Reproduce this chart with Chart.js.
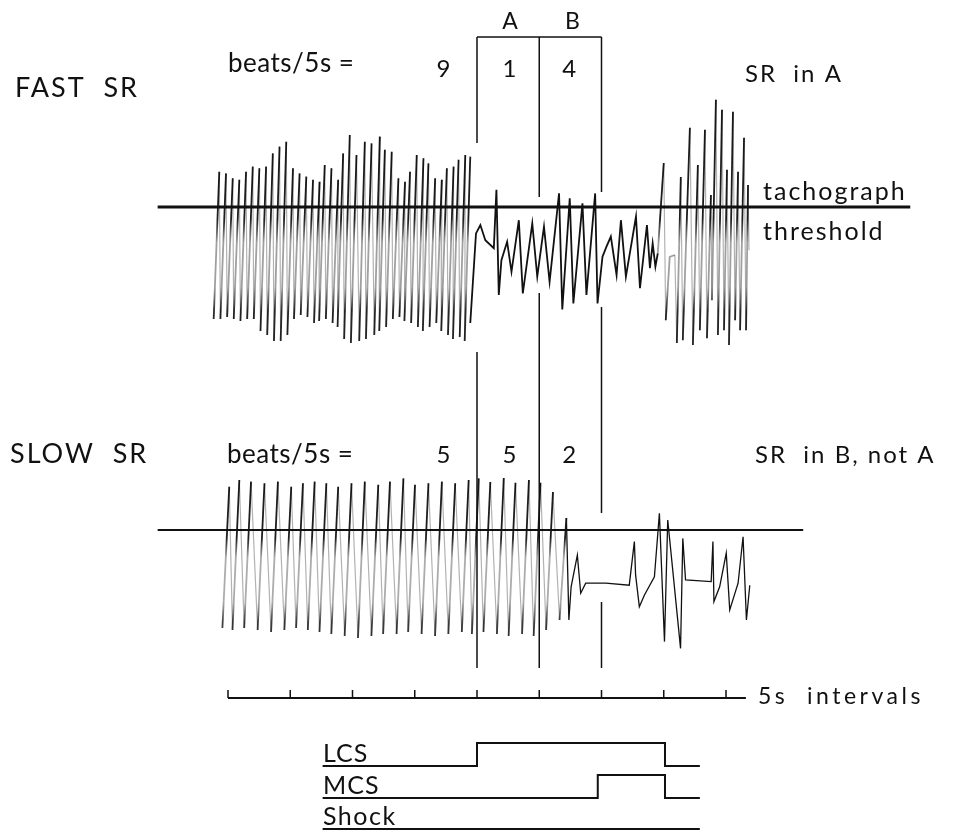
<!DOCTYPE html>
<html>
<head>
<meta charset="utf-8">
<script src="https://cdn.jsdelivr.net/npm/chart.js@4.4.1/dist/chart.umd.min.js"></script>
<style>
  html, body { margin: 0; padding: 0; background: #fff; }
  #wrap { width: 956px; height: 832px; position: relative; }
</style>
</head>
<body>
<div id="wrap"><canvas id="trace"></canvas></div>
<script>
// time in seconds (0 = first 5s tick), trace amplitude in arbitrary units (tachograph threshold = 0)
var markerTimes = [20, 25, 30];
var windowNames = ["A", "B"];
var beatBinCentres = [17.3, 22.6, 27.4];
var fastBeats = ["9", "1", "4"];
var slowBeats = ["5", "5", "2"];
var intervalTicks = [0, 5, 10, 15, 20, 25, 30, 35, 40];
var intervalEnd = 41.6;

// FAST SR: fast spike train (upstroke top time, top, trough before it)
var fastSpikeT = [-0.70, -0.16, 0.38, 0.91, 1.45, 1.99, 2.52, 3.06, 3.60, 4.14, 4.68, 5.22, 5.75, 6.29, 6.83, 7.36, 7.77, 8.31, 8.85, 9.25,
  9.78, 10.32, 10.99, 11.53, 12.20, 12.60, 13.15, 13.69, 14.22, 14.62, 15.16, 15.70, 16.10, 16.64, 17.18, 17.58, 18.12, 18.52, 19.06, 19.46];
var fastSpikeTop = [0.88, 0.84, 0.72, 0.68, 0.88, 1.01, 0.97, 1.01, 1.34, 1.51, 1.63, 0.97, 0.84, 0.76, 0.68, 0.63, 1.05, 0.97, 0.68, 1.34,
  1.80, 1.30, 1.63, 1.59, 1.76, 1.43, 1.38, 0.72, 0.63, 0.88, 1.30, 1.22, 1.09, 0.72, 0.68, 0.97, 1.01, 1.18, 1.30, 1.26];
var fastSpikeBot = [-2.8, -2.8, -2.75, -2.8, -2.85, -2.8, -2.8, -3.1, -3.2, -3.35, -3.35, -3.2, -2.8, -2.7, -2.75, -2.9, -2.85, -2.8, -2.9, -3.0,
  -3.3, -3.4, -3.35, -3.3, -3.2, -3.1, -3.0, -2.8, -2.75, -2.85, -2.9, -3.0, -3.1, -3.0, -2.9, -3.1, -3.2, -3.3, -3.25, -3.35];

// FAST SR: slower wave inside A and B
var fastWaveT = [19.46, 19.92, 20.27, 20.67, 21.35, 21.56, 21.75, 21.96, 22.42, 22.77, 23.36, 23.68, 24.44, 24.84, 25.38, 25.83, 26.59, 26.85,
  27.45, 27.74, 28.47, 28.79, 29.49, 29.68, 30.08, 30.40, 30.75, 31.21, 31.56, 31.96, 32.77, 33.09, 33.65, 33.89, 34.11, 34.33, 34.52];
var fastWaveV = [-2.9, -0.66, -0.45, -0.83, -1.03, 0.43, -2.20, -1.33, -0.87, -1.62, -0.33, -2.16, -0.41, -1.74, -0.49, -1.87, 0.34, -2.56,
  0.22, -2.41, 0.09, -2.20, 0.34, -2.41, -1.24, -0.99, -0.74, -1.70, -0.33, -1.74, -0.24, -2.03, -0.45, -1.53, -0.91, -1.49, -1.16];

// FAST SR: burst after the stimulation
var fastBurstT = [34.52, 35.00, 35.16, 35.48, 35.89, 36.05, 36.37, 36.53, 37.10, 37.34, 37.74, 37.90, 38.31, 38.47, 38.79, 38.87, 39.19,
  39.35, 39.68, 39.84, 40.08, 40.24, 40.56, 40.73, 40.97, 41.13, 41.45, 41.61, 41.77, 41.85];
var fastBurstV = [-1.16, 1.10, -2.83, -1.25, -1.20, -3.40, 0.75, -3.33, 1.98, -3.45, 1.05, -3.08, 1.93, -3.28, 0.30, -2.33, 2.68,
  -3.20, 2.43, -3.08, 0.93, -3.45, 2.38, -2.83, 0.88, -3.08, 1.73, -3.08, 0.55, -1.08];

// SLOW SR: spike train
var slowSpikeT = [0.10, 0.91, 1.85, 2.93, 4.01, 5.08, 6.02, 6.96, 7.90, 8.85, 9.92, 10.99, 12.07, 13.01, 14.09, 15.02, 16.10, 17.18,
  18.25, 19.33, 20.14, 21.07, 22.15, 23.09, 24.17, 25.10, 26.10, 27.18];
var slowSpikeTop = [1.08, 1.25, 1.21, 1.17, 1.21, 1.08, 1.17, 1.21, 1.17, 1.08, 1.17, 1.21, 1.13, 1.21, 1.29, 1.13, 1.17, 1.21,
  1.17, 1.25, 1.29, 1.20, 1.30, 1.18, 1.25, 1.18, 0.95, 0.30];
var slowSpikeBot = [-2.45, -2.5, -2.45, -2.5, -2.55, -2.5, -2.45, -2.5, -2.55, -2.6, -2.65, -2.7, -2.65, -2.6, -2.6, -2.55, -2.6, -2.65,
  -2.6, -2.55, -2.6, -2.55, -2.6, -2.65, -2.6, -2.65, -2.5, -2.25];

// SLOW SR: tail after the spikes stop
var slowTailT = [27.18, 27.38, 27.56, 28.06, 28.33, 28.73, 30.35, 32.23, 32.64, 32.74, 33.04, 33.44, 34.25, 34.65, 35.06, 35.32, 36.35,
  36.53, 36.75, 38.81, 38.95, 39.03, 39.49, 40.02, 40.30, 40.97, 41.37, 41.64, 41.91];
var slowTailV = [0.30, -2.25, -1.42, -0.63, -1.58, -1.33, -1.33, -1.38, -0.29, -1.13, -1.92, -1.63, -1.17, 0.42, -2.79, 0.25, -2.96,
  -0.21, -1.25, -1.29, -0.29, -1.79, -1.42, -0.58, -2.00, -1.33, -0.17, -2.25, -1.38];

// threshold line extents
var fastThresholdT = [-5.65, 54.8];
var slowThresholdT = [-5.65, 46.2];

// stimulus channels (0 = off, 1 = on)
var lcsT = [7.6, 20, 35.1, 37.9];
var lcsOn = [0, 1, 0, 0];
var mcsT = [7.6, 29.7, 35.1, 37.9];
var mcsOn = [0, 1, 0, 0];
var shockT = [7.6, 37.9];
var shockOn = [0, 0];

// ---- layout ----
var W = 956, H = 832;
var PX_PER_S = 12.45, T0_PX = 228;
var FAST_SLANT = 0.45, SLOW_SLANT = 0.55;
var FONT = "Lato, 'Noto Sans', sans-serif";

function band(zeroPx, pxPerUnit) {
  return { type: "linear", display: false, min: (zeroPx - H) / pxPerUnit, max: zeroPx / pxPerUnit };
}

function zip(ts, vs) {
  return ts.map(function (t, i) { return { x: t, y: vs[i] }; });
}

function spikes(ts, tops, bots, slant) {
  var pts = [];
  ts.forEach(function (t, i) {
    pts.push({ x: t - slant, y: bots[i] });
    pts.push({ x: t, y: tops[i] });
  });
  return pts;
}

function tickMarks(ts) {
  var pts = [];
  ts.forEach(function (t) {
    pts.push({ x: t, y: 0 }, { x: t, y: 1 }, { x: t, y: null });
  });
  return pts;
}

// fast pen: upstrokes ink dark at both ends and fade in the middle, downstrokes are faint
var inkStops = {
  yFast: [[2.8, 0.95], [-0.3, 0.95], [-0.9, 0.4], [-2.0, 0.4], [-2.6, 0.9], [-3.6, 0.9]],
  ySlow: [[1.5, 0.95], [-0.2, 0.95], [-0.7, 0.35], [-1.8, 0.35], [-2.3, 0.8], [-2.8, 0.8]]
};
var inkCache = {};
function ink(chart, axisId) {
  if (inkCache[axisId]) return inkCache[axisId];
  var s = chart.scales[axisId], stops = inkStops[axisId];
  var y0 = s.getPixelForValue(stops[0][0]), y1 = s.getPixelForValue(stops[stops.length - 1][0]);
  var g = chart.ctx.createLinearGradient(0, y0, 0, y1);
  stops.forEach(function (st) {
    g.addColorStop((s.getPixelForValue(st[0]) - y0) / (y1 - y0), "rgba(17,17,17," + st[1] + ")");
  });
  inkCache[axisId] = g;
  return g;
}

function penStroke(axisId) {
  return {
    borderColor: function (c) { return c.p1.parsed.y > c.p0.parsed.y ? ink(c.chart, axisId) : "rgba(0,0,0,0.3)"; },
    borderWidth: function (c) { return c.p1.parsed.y > c.p0.parsed.y ? 1.8 : 1.2; }
  };
}

function trace(data, axis, width, seg) {
  return {
    data: data, yAxisID: axis, borderColor: "#111", borderWidth: width,
    pointRadius: 0, tension: 0, spanGaps: false, segment: seg || undefined
  };
}

var lcsSet = trace(zip(lcsT, lcsOn), "yLcs", 2);
lcsSet.stepped = "before";
var mcsSet = trace(zip(mcsT, mcsOn), "yMcs", 2);
mcsSet.stepped = "before";
var shockSet = trace(zip(shockT, shockOn), "yShock", 2);

var datasets = [
  trace(spikes(fastSpikeT, fastSpikeTop, fastSpikeBot, FAST_SLANT), "yFast", 1.5, penStroke("yFast")),
  trace(zip(fastWaveT, fastWaveV), "yFast", 1.8),
  trace(zip(fastBurstT, fastBurstV), "yFast", 1.5, penStroke("yFast")),
  trace(spikes(slowSpikeT, slowSpikeTop, slowSpikeBot, SLOW_SLANT), "ySlow", 1.5, penStroke("ySlow")),
  trace(zip(slowTailT, slowTailV), "ySlow", 1.3),
  trace(zip(fastThresholdT, [0, 0]), "yFast", 2.8),
  trace(zip(slowThresholdT, [0, 0]), "ySlow", 2.2),
  trace(zip([intervalTicks[0], intervalEnd], [0, 0]), "yTime", 2),
  trace(tickMarks(intervalTicks), "yTime", 1.5),
  lcsSet, mcsSet, shockSet
];

// bracket, marker lines and all lettering
var bracketTop = 37;
var markerSegments = [[[37, 143], [352, 668]], [[37, 197], [293, 668]], [[37, 192], [307, 513], [602, 668]]];

var annotate = {
  id: "annotate",
  afterDatasetsDraw: function (chart) {
    var ctx = chart.ctx, xs = chart.scales.x;
    ctx.save();
    ctx.strokeStyle = "#111";
    ctx.lineWidth = 1.5;
    markerTimes.forEach(function (t, i) {
      var px = xs.getPixelForValue(t);
      markerSegments[i].forEach(function (s) {
        ctx.beginPath(); ctx.moveTo(px, s[0]); ctx.lineTo(px, s[1]); ctx.stroke();
      });
    });
    ctx.beginPath();
    ctx.moveTo(xs.getPixelForValue(markerTimes[0]), bracketTop);
    ctx.lineTo(xs.getPixelForValue(markerTimes[2]), bracketTop);
    ctx.stroke();

    ctx.fillStyle = "#111";
    ctx.textBaseline = "alphabetic";
    function txt(s, x, y, size, align, spacing) {
      ctx.font = size + "px " + FONT;
      ctx.textAlign = align || "left";
      ctx.letterSpacing = (spacing || 0) + "px";
      ctx.fillText(s, x, y);
    }
    windowNames.forEach(function (n, i) {
      txt(n, xs.getPixelForValue((markerTimes[i] + markerTimes[i + 1]) / 2) + 2, 29, 23, "center");
    });
    fastBeats.forEach(function (n, i) { txt(n, xs.getPixelForValue(beatBinCentres[i]), 77, 24, "center"); });
    slowBeats.forEach(function (n, i) { txt(n, xs.getPixelForValue(beatBinCentres[i]), 463, 24, "center"); });
    txt("FAST  SR", 15, 97, 27, "left", 2);
    txt("SLOW  SR", 10, 463, 27, "left", 2);
    txt("beats/5s =", 228, 72, 26, "left", 0.5);
    txt("beats/5s =", 227, 463, 26, "left", 0.5);
    txt("SR  in A", 745, 82, 24, "left", 2);
    txt("SR  in B, not A", 755, 463, 24, "left", 2);
    txt("tachograph", 763, 200, 25, "left", 2);
    txt("threshold", 763, 240, 25, "left", 2);
    txt("5s  intervals", 758, chart.scales.yTime.getPixelForValue(0) + 6, 23, "left", 3.5);
    txt("LCS", 323, chart.scales.yLcs.getPixelForValue(0) - 4, 25, "left", 1);
    txt("MCS", 323, chart.scales.yMcs.getPixelForValue(0) - 4, 25, "left", 1);
    txt("Shock", 323, chart.scales.yShock.getPixelForValue(0) - 4, 25, "left", 1.5);
    ctx.restore();
  }
};

new Chart(document.getElementById("trace").getContext("2d"), {
  type: "line",
  data: { datasets: datasets },
  options: {
    responsive: true,
    maintainAspectRatio: false,
    animation: false,
    layout: { padding: 0 },
    plugins: { legend: { display: false }, tooltip: { enabled: false } },
    scales: {
      x: { type: "linear", display: false, min: -T0_PX / PX_PER_S, max: (W - T0_PX) / PX_PER_S },
      yFast: band(207, 40),
      ySlow: band(530, 40),
      yTime: band(698, 8),
      yLcs: band(766, 23),
      yMcs: band(798, 23),
      yShock: band(829, 23)
    }
  },
  plugins: [annotate]
});
</script>
</body>
</html>
